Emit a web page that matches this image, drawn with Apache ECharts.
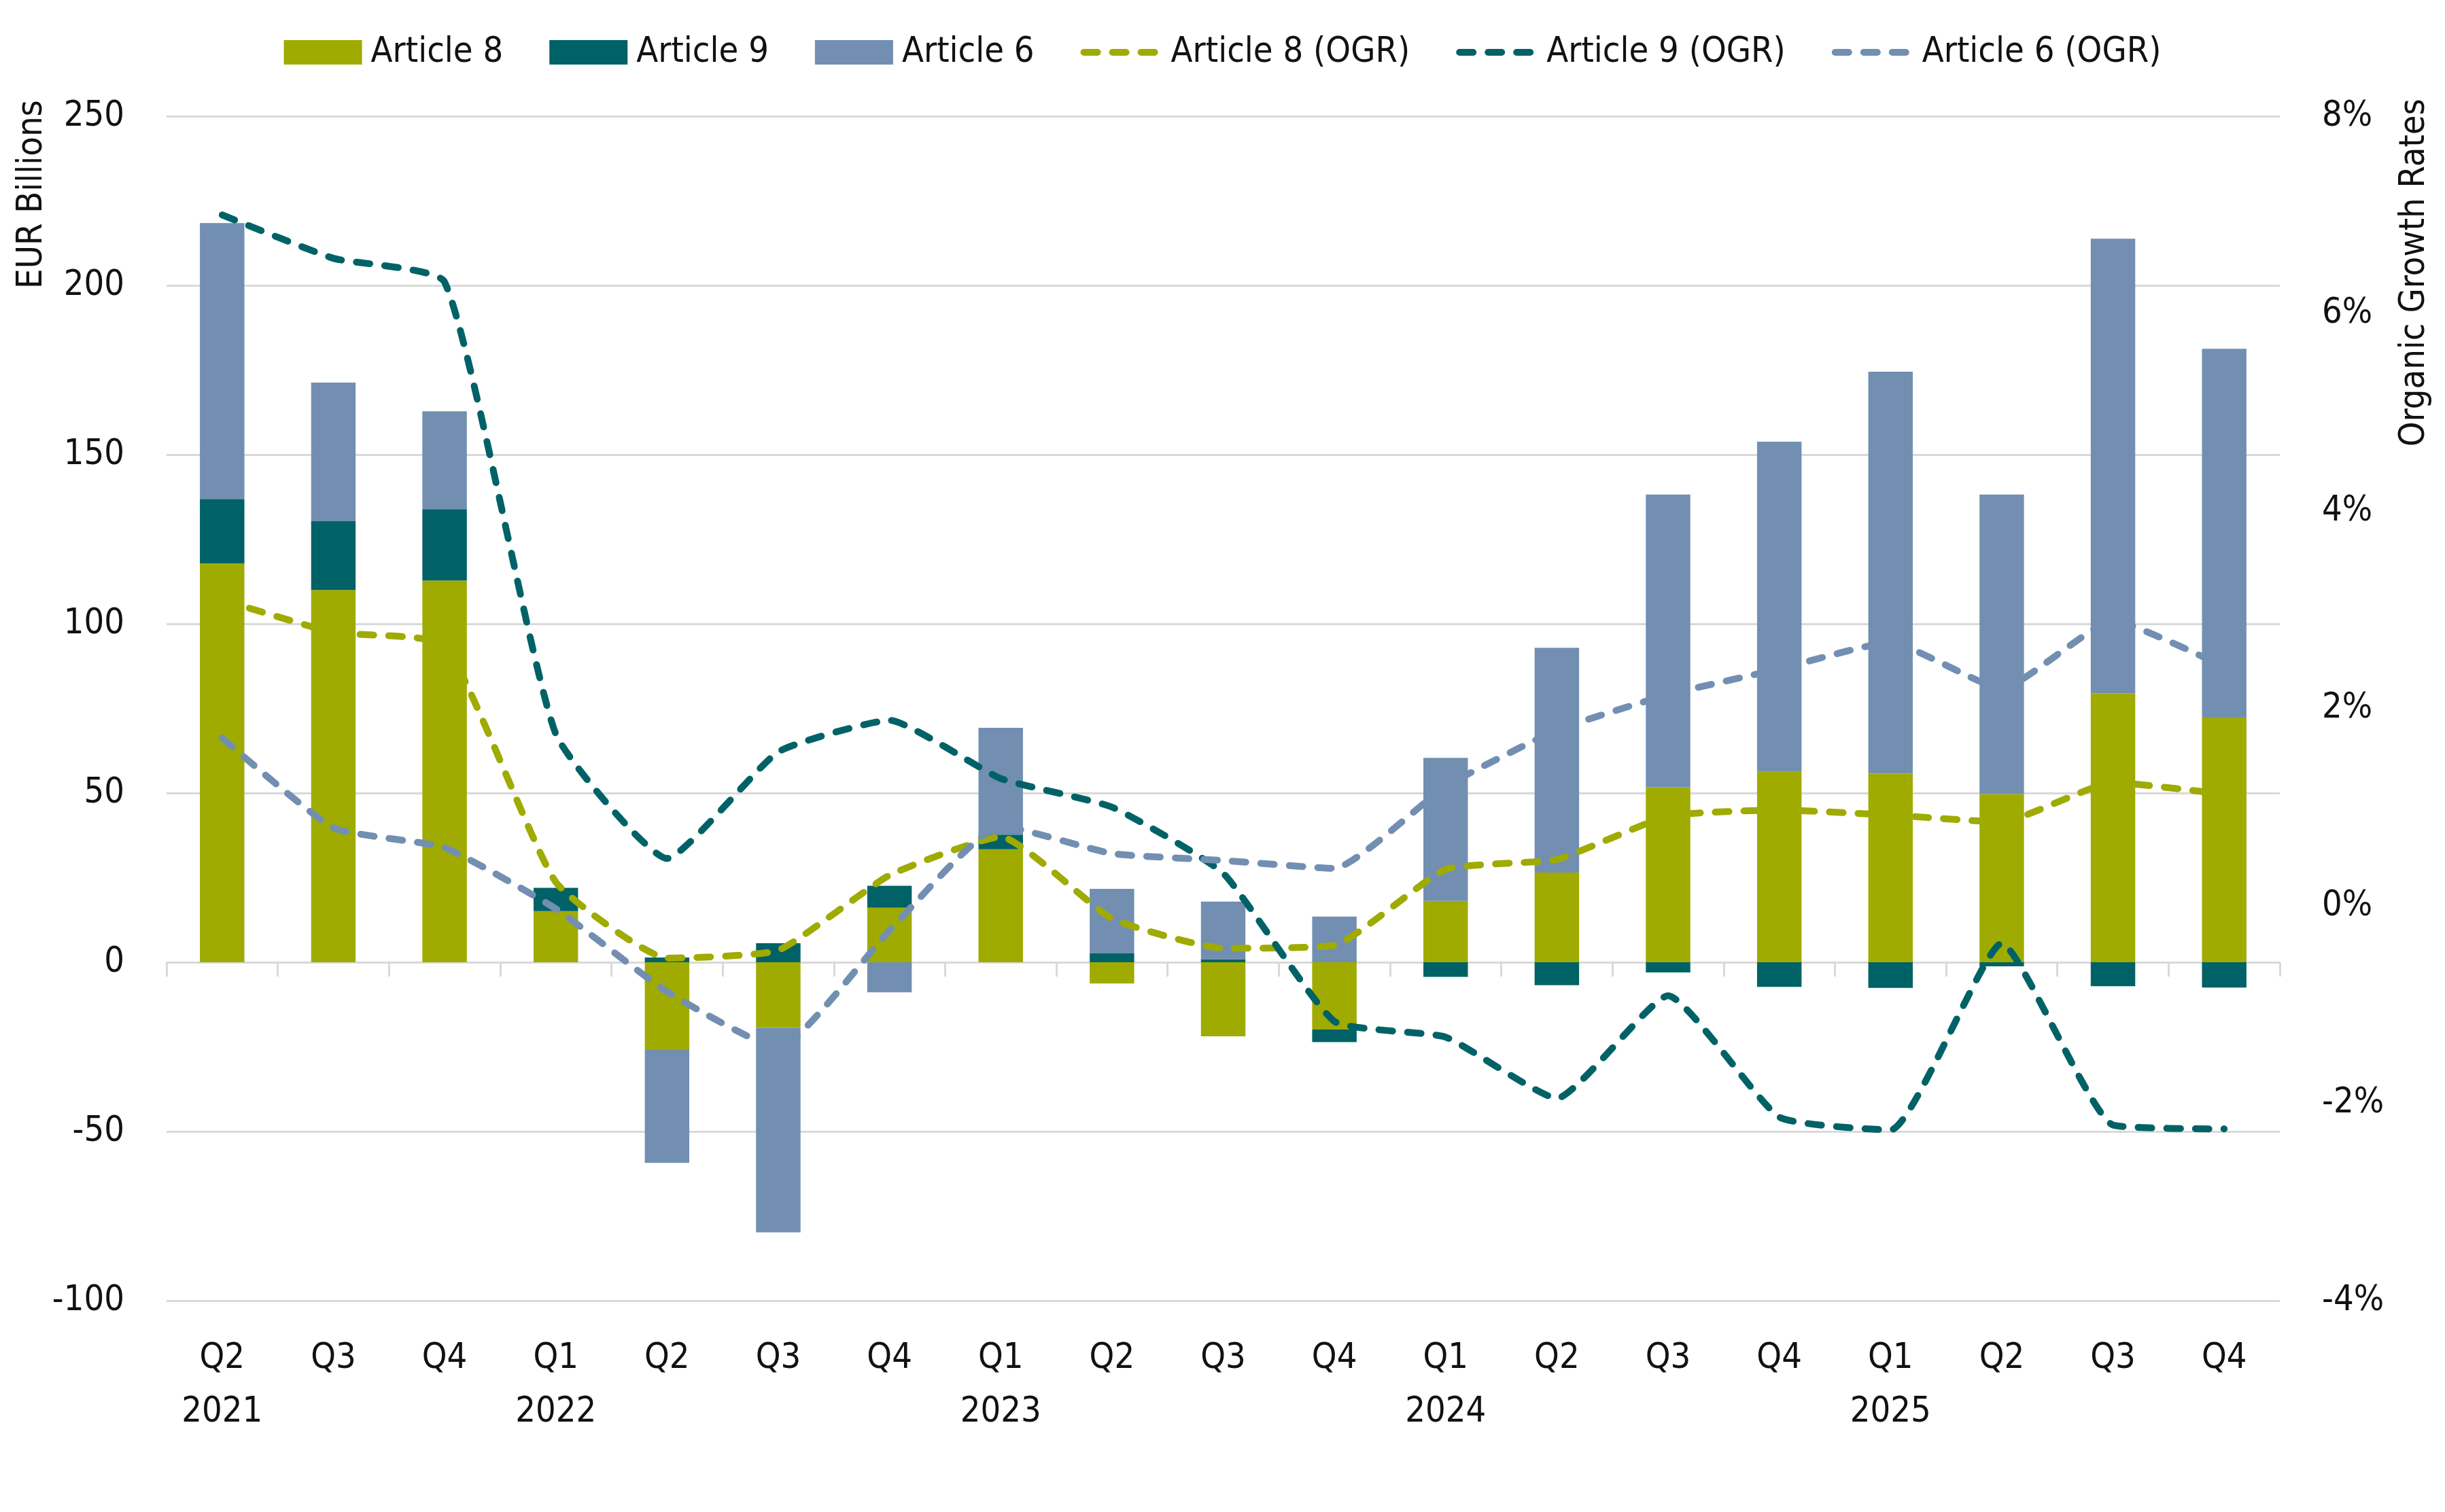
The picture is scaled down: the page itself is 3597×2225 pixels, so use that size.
<!DOCTYPE html>
<html>
<head>
<meta charset="utf-8">
<title>SFDR fund flows and organic growth rates</title>
<script src="https://cdn.jsdelivr.net/npm/echarts@6/dist/echarts.min.js"></script>
<style>
  html, body { margin: 0; padding: 0; background: #fff; }
  #chart { width: 3597px; height: 2225px; }
</style>
</head>
<body>
<div id="chart"></div>
<script>
// quarters, Q2 2021 .. Q4 2025
const categories = ['Q2\n2021', 'Q3', 'Q4', 'Q1\n2022', 'Q2', 'Q3', 'Q4', 'Q1\n2023', 'Q2', 'Q3', 'Q4',
  'Q1\n2024', 'Q2', 'Q3', 'Q4', 'Q1\n2025', 'Q2', 'Q3', 'Q4']

// flows, EUR billions
const article8 = [117.8, 110.0, 112.8, 15.1, -25.9, -19.4, 16.1, 33.4, -6.3, -21.9, -19.9,
  18.1, 26.5, 51.7, 56.3, 55.7, 49.7, 79.4, 72.3]
const article9 = [19.1, 20.3, 21.1, 6.9, 1.4, 5.6, 6.5, 4.3, 2.6, 0.9, -3.7,
  -4.3, -6.8, -3.0, -7.3, -7.6, -1.2, -7.1, -7.5]
const article6 = [81.5, 41.0, 28.9, 0, -33.4, -60.4, -8.9, 31.6, 19.1, 17.0, 13.5,
  42.3, 66.4, 86.5, 97.5, 118.8, 88.5, 134.4, 109.0]

// organic growth rates, %
const article8Ogr = [3.1, 2.77, 2.64, 0.24, -0.53, -0.45, 0.31, 0.70, -0.13, -0.43, -0.40,
  0.37, 0.47, 0.91, 0.97, 0.92, 0.85, 1.25, 1.13]
const article9Ogr = [7.0, 6.56, 6.32, 1.74, 0.48, 1.56, 1.88, 1.29, 1.0, 0.33, -1.17,
  -1.33, -1.95, -0.91, -2.14, -2.27, -0.38, -2.22, -2.26]
const article6Ogr = [1.70, 0.79, 0.59, -0.03, -0.87, -1.44, -0.25, 0.81, 0.53, 0.46, 0.38,
  1.21, 1.78, 2.14, 2.40, 2.67, 2.20, 2.89, 2.42]

const leftTicks = { min: -100, max: 250, interval: 50 }
const rightTicks = { min: -4, max: 8, interval: 2 }

const GREEN = '#9fab00'
const TEAL = '#006266'
const BLUE = '#728fb2'
const GRID = '#d9d9d9'
const FONT = "'Liberation Sans Narrow', 'DejaVu Sans Condensed', 'Roboto', sans-serif"
const FS = 52

const myChart = echarts.init(document.getElementById('chart'))

function barSeries(name, data, color) {
  return {
    name: name,
    type: 'bar',
    stack: 'flows',
    barWidth: '40%',
    itemStyle: { color: color },
    data: data
  }
}

function ogrSeries(name, data, color) {
  return {
    name: name,
    type: 'line',
    yAxisIndex: 1,
    smooth: 0.15,
    symbol: 'none',
    lineStyle: { color: color, width: 10, type: [20, 22], cap: 'round' },
    itemStyle: { color: color },
    data: data
  }
}

const option = {
  animation: false,
  backgroundColor: '#fff',
  textStyle: { fontFamily: FONT },
  legend: {
    top: 46,
    left: 'center',
    itemWidth: 115,
    itemHeight: 36,
    itemGap: 68,
    lineStyle: { width: 10, cap: 'round' },
    textStyle: { fontSize: FS, color: '#111', fontFamily: FONT, padding: [0, 0, 0, 8] },
    data: [
      { name: 'Article 8', icon: 'rect' },
      { name: 'Article 9', icon: 'rect' },
      { name: 'Article 6', icon: 'rect' },
      { name: 'Article 8 (OGR)', itemStyle: { opacity: 0 } },
      { name: 'Article 9 (OGR)', itemStyle: { opacity: 0 } },
      { name: 'Article 6 (OGR)', itemStyle: { opacity: 0 } }
    ]
  },
  grid: {
    left: 245,
    right: 243,
    top: 171,
    bottom: 311,
    containLabel: false
  },
  graphic: [
    {
      type: 'text',
      x: 47,
      y: 147,
      rotation: Math.PI / 2,
      style: {
        text: 'EUR Billions',
        fontSize: FS,
        fontFamily: FONT,
        fill: '#111',
        align: 'right',
        verticalAlign: 'middle'
      }
    },
    {
      type: 'text',
      x: 3552,
      y: 145,
      rotation: Math.PI / 2,
      style: {
        text: 'Organic Growth Rates',
        fontSize: FS,
        fontFamily: FONT,
        fill: '#111',
        align: 'right',
        verticalAlign: 'middle'
      }
    }
  ],
  xAxis: [
    {
      // axis line at zero with ticks between quarters
      type: 'category',
      data: categories,
      axisLine: { onZero: true, lineStyle: { color: GRID, width: 3 } },
      axisTick: { show: true, length: 21, lineStyle: { color: GRID, width: 3 } },
      axisLabel: { show: false },
      splitLine: { show: false }
    },
    {
      // quarter labels at the bottom
      type: 'category',
      data: categories,
      position: 'bottom',
      axisLine: { show: false, onZero: false },
      axisTick: { show: false },
      axisLabel: {
        interval: 0,
        margin: 46,
        fontSize: FS,
        lineHeight: 79,
        color: '#111',
        fontFamily: FONT
      },
      splitLine: { show: false }
    }
  ],
  yAxis: [
    {
      type: 'value',
      min: leftTicks.min,
      max: leftTicks.max,
      interval: leftTicks.interval,
      axisLine: { show: false },
      axisTick: { show: false },
      axisLabel: { margin: 62, fontSize: FS, color: '#111', fontFamily: FONT },
      splitLine: { show: true, lineStyle: { color: GRID, width: 3 } }
    },
    {
      type: 'value',
      min: rightTicks.min,
      max: rightTicks.max,
      interval: rightTicks.interval,
      position: 'right',
      axisLine: { show: false },
      axisTick: { show: false },
      axisLabel: { margin: 62, fontSize: FS, color: '#111', fontFamily: FONT, formatter: '{value}%' },
      splitLine: { show: false }
    }
  ],
  series: [
    barSeries('Article 8', article8, GREEN),
    barSeries('Article 9', article9, TEAL),
    barSeries('Article 6', article6, BLUE),
    ogrSeries('Article 8 (OGR)', article8Ogr, GREEN),
    ogrSeries('Article 9 (OGR)', article9Ogr, TEAL),
    ogrSeries('Article 6 (OGR)', article6Ogr, BLUE)
  ]
}

myChart.setOption(option)
window.addEventListener('resize', function() {
  myChart.resize()
})
</script>
</body>
</html>
